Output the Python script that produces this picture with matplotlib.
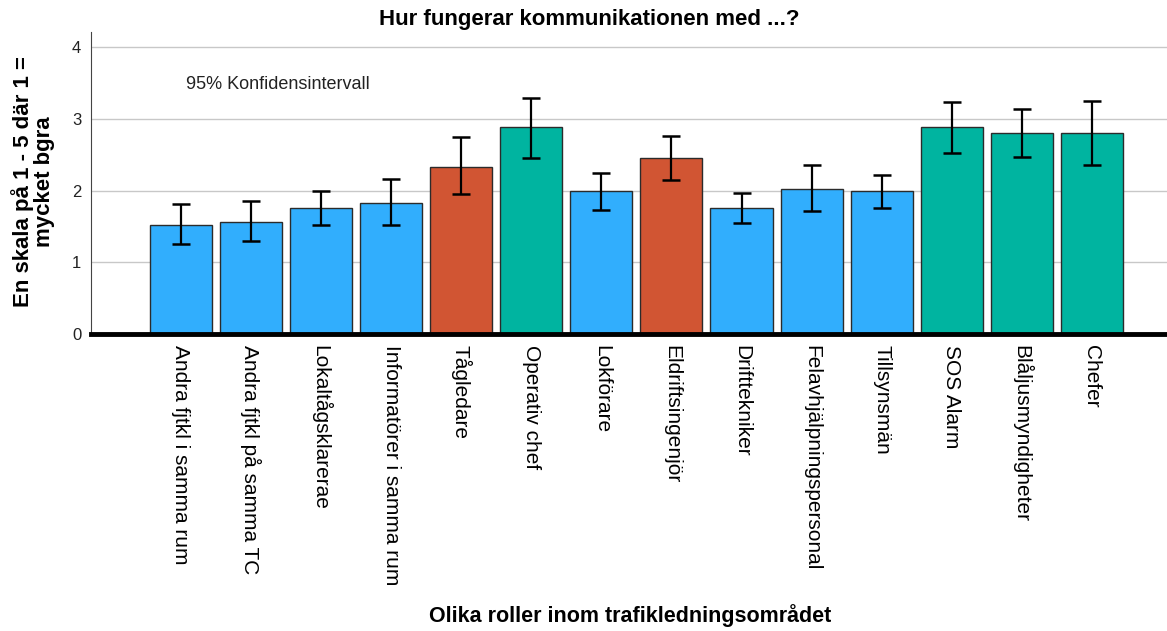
import matplotlib
matplotlib.use("Agg")
import matplotlib.pyplot as plt
import numpy as np

plt.rcParams['font.family'] = ['Liberation Sans', 'DejaVu Sans']

categories = ["Andra fjtkl i samma rum", "Andra fjtkl på samma TC", "Lokaltågsklarerae",
              "Informatörer i samma rum", "Tågledare", "Operativ chef", "Lokförare",
              "Eldriftsingenjör", "Drifttekniker", "Felavhjälpningspersonal", "Tillsynsmän",
              "SOS Alarm", "Blåljusmyndigheter", "Chefer"]
means   = [1.52, 1.56, 1.75, 1.83, 2.33, 2.88, 1.99, 2.45, 1.75, 2.02, 1.99, 2.88, 2.80, 2.80]
ci_high = [1.81, 1.85, 2.00, 2.16, 2.74, 3.29, 2.25, 2.76, 1.97, 2.35, 2.22, 3.23, 3.13, 3.25]
ci_low  = [1.25, 1.29, 1.52, 1.52, 1.95, 2.46, 1.73, 2.14, 1.55, 1.72, 1.76, 2.53, 2.47, 2.36]
groups  = ["a", "a", "a", "a", "b", "c", "a", "b", "a", "a", "a", "c", "c", "c"]

palette = {"a": "#31aefd", "b": "#d15533", "c": "#00b4a0"}

fig = plt.figure(figsize=(11.67, 6.31), dpi=100)
ax = fig.add_axes([91/1167, 1 - 334/631, (1167 - 91)/1167, (334 - 32)/631])

x = np.arange(len(categories))
means_a = np.array(means)
yerr = np.vstack([means_a - np.array(ci_low), np.array(ci_high) - means_a])

ax.set_axisbelow(True)
ax.yaxis.grid(True, color="#c8c8c8", linewidth=1)
ax.bar(x, means, width=0.885, color=[palette[g] for g in groups],
       edgecolor="#2b2b2b", linewidth=1, zorder=2)
ax.errorbar(x, means, yerr=yerr, fmt="none", ecolor="black", elinewidth=1.6,
            capsize=6.2, capthick=1.8, zorder=3)

ax.set_xlim(-1.28, 14.07)
ax.set_ylim(0, 4.21)
ax.set_yticks([0, 1, 2, 3, 4])
ax.set_xticks(x)
ax.set_xticklabels(categories, rotation=270, fontsize=15, va="top", ha="center")
ax.tick_params(axis="x", length=0, pad=8)
ax.tick_params(axis="y", length=0, pad=7, labelsize=12, labelcolor="#222222")
for s in ["top", "right"]:
    ax.spines[s].set_visible(False)
ax.spines["left"].set_color("#444444")
ax.spines["bottom"].set_linewidth(3.5)
ax.spines["bottom"].set_color("black")

ax.text(1.38, 3.48, "95% Konfidensintervall", fontsize=13, ha="center", va="center",
        color="#222222")

fig.text(589/1167, 1 - 19/631, "Hur fungerar kommunikationen med ...?", fontsize=16,
         fontweight="bold", ha="center", va="center")
fig.text(33/1167, 1 - 182/631, "En skala på 1 - 5 där 1 =\nmycket bgra", fontsize=16,
         fontweight="bold", rotation=90, ha="center", va="center", linespacing=1.0)
fig.text(630/1167, 1 - 616/631, "Olika roller inom trafikledningsområdet", fontsize=15.5,
         fontweight="bold", ha="center", va="center")

fig.savefig("out.png", dpi=100)
